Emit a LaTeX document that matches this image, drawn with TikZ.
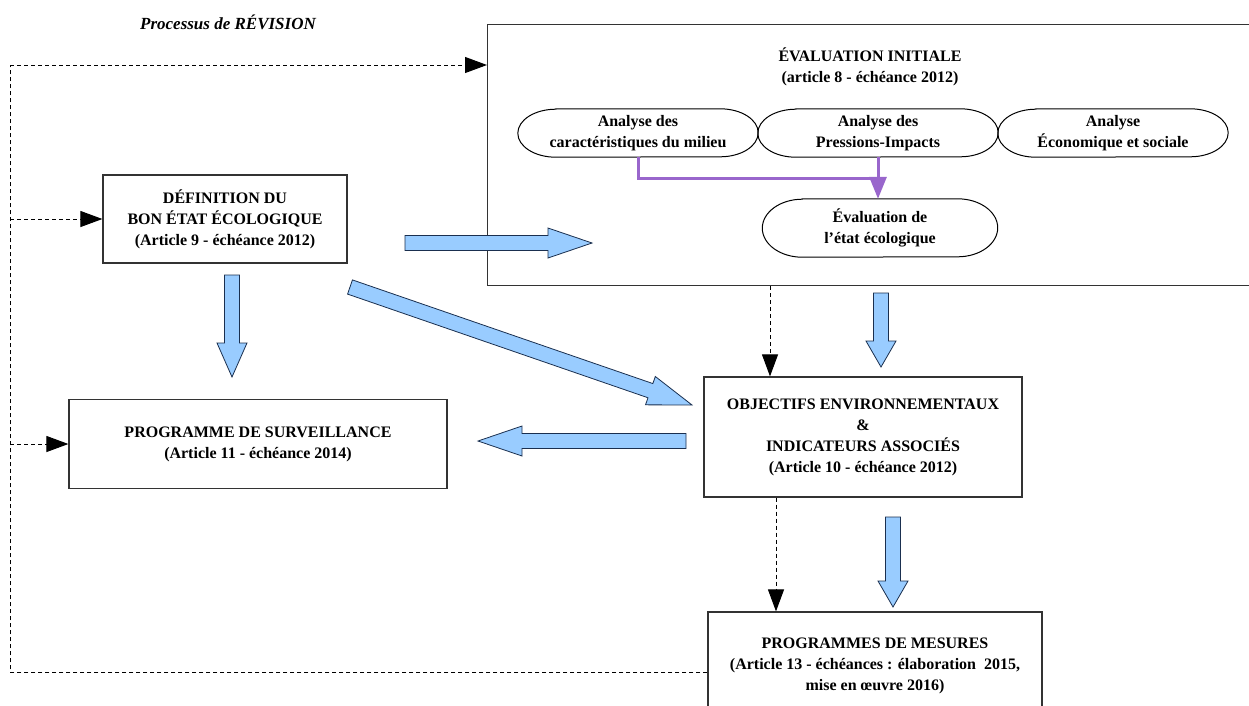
\documentclass[tikz,border=0pt]{standalone}
\usepackage{fontspec}
\setmainfont{Liberation Serif}
\usetikzlibrary{arrows.meta,calc}
\definecolor{arrowblue}{HTML}{99CCFF}
\definecolor{arrowedge}{HTML}{1A2F4F}
\definecolor{boxedge}{HTML}{333333}
\definecolor{lilas}{HTML}{9966CC}
\tikzset{
  txt/.style={align=center,inner sep=0pt,font=\bfseries\fontsize{16}{21}\selectfont},
  box/.style={txt,draw=boxedge,line width=1.2pt},
  oval/.style={txt},
  dashline/.style={line width=1pt,dash pattern=on 4pt off 3pt},
  dasharrow/.style={dashline,-{Triangle[length=22pt,width=16pt]}},
  bigarrow/.style={draw=arrowedge,fill=arrowblue,line width=0.8pt},
  lilasline/.style={draw=lilas,line width=3pt}
}
\newcommand{\blockarrow}[3]{%
  \coordinate (bah) at ($(#2)!#3!(#1)$);
  \draw[bigarrow] ($(#1)!7.5pt!90:(#2)$) -- ($(bah)!7.5pt!-90:(#1)$) -- ($(bah)!15pt!-90:(#1)$)
    -- (#2) -- ($(bah)!15pt!90:(#1)$) -- ($(bah)!7.5pt!90:(#1)$) -- ($(#1)!7.5pt!-90:(#2)$) -- cycle;}
\newcommand{\ovalframe}[3]{%
  \draw[line width=1pt] ($(#1.north west)+(#2,0)$) -- ($(#1.north east)+(-#2,0)$)
    arc[start angle=-90,end angle=90,x radius=#2,y radius=#3] -- ($(#1.south west)+(#2,0)$)
    arc[start angle=90,end angle=270,x radius=#2,y radius=#3] -- cycle;}
\begin{document}
\begin{tikzpicture}[x=1pt,y=-1pt]
  \useasboundingbox (0,0) rectangle (1249,705);
  \clip (0,0) rectangle (1249,705);
  \node[font=\bfseries\itshape\fontsize{17}{19}\selectfont] (rev) at (228,22) {Processus de RÉVISION};

  \node[box,minimum width=780pt,minimum height=261pt,anchor=north west] (eval) at (487,24) {};
  \node[txt] (evaltitle) at (870,67) {ÉVALUATION INITIALE\\(article 8 - échéance 2012)};
  \node[oval,minimum width=240pt,minimum height=48pt] (e1) at (638,133) {Analyse des\\caractéristiques du milieu};
  \node[oval,minimum width=240pt,minimum height=48pt] (e2) at (878,133) {Analyse des\\Pressions-Impacts};
  \node[oval,minimum width=230pt,minimum height=48pt] (e3) at (1113,133) {Analyse\\Économique et sociale};
  \node[oval,minimum width=235pt,minimum height=58pt] (e4) at (880,228) {Évaluation de\\l'état écologique};
  \ovalframe{e1}{38}{24}
  \ovalframe{e2}{38}{24}
  \ovalframe{e3}{38}{24}
  \ovalframe{e4}{40}{29}

  \node[box,minimum width=244pt,minimum height=88pt] (def) at (225,219) {DÉFINITION DU\\BON ÉTAT ÉCOLOGIQUE\\(Article 9 - échéance 2012)};
  \node[box,minimum width=378pt,minimum height=89pt] (surv) at (258,444) {PROGRAMME DE SURVEILLANCE\\(Article 11 - échéance 2014)};
  \node[box,minimum width=318pt,minimum height=120pt] (obj) at (863,437) {OBJECTIFS ENVIRONNEMENTAUX\\\&\\INDICATEURS ASSOCIÉS\\(Article 10 - échéance 2012)};
  \node[box,minimum width=334pt,minimum height=108pt] (mes) at (875,666) {PROGRAMMES DE MESURES\\(Article 13 - échéances : élaboration \ 2015,\\mise en œuvre 2016)};

  \coordinate (pj) at (0,178);
  \draw[lilasline] (e1.south) |- (e2.south |- pj);
  \draw[lilasline,-{Triangle[length=22pt,width=17pt]}] (e2.south) -- (e2.south |- e4.north);

  \coordinate (lt) at (10,65);
  \coordinate (lb) at (10,672);
  \draw[dashline] ($(mes.west)+(0,6)$) -- (lb) -- (lt);
  \draw[dasharrow] (lt) -- (eval.west |- lt);
  \draw[dasharrow] (lt |- def.west) -- (def.west);
  \draw[dasharrow] (lt |- surv.west) -- (surv.west);
  \coordinate (dv1) at (770,0);
  \coordinate (dv2) at (776,0);
  \draw[dasharrow] (eval.south -| dv1) -- (obj.north -| dv1);
  \draw[dasharrow] (obj.south -| dv2) -- (mes.north -| dv2);

  \coordinate (b1s) at (405,243);
  \coordinate (b1e) at (592,243);
  \coordinate (b2s) at (232,275);
  \coordinate (b2e) at (232,377);
  \coordinate (b3s) at (350,287);
  \coordinate (b3e) at (692,405);
  \coordinate (b4s) at (881,293);
  \coordinate (b4e) at (881,367);
  \coordinate (b5s) at (686,441);
  \coordinate (b5e) at (478,441);
  \coordinate (b6s) at (893,517);
  \coordinate (b6e) at (893,607);
  \blockarrow{b1s}{b1e}{44pt}
  \blockarrow{b2s}{b2e}{34pt}
  \blockarrow{b3s}{b3e}{44pt}
  \blockarrow{b4s}{b4e}{26pt}
  \blockarrow{b5s}{b5e}{44pt}
  \blockarrow{b6s}{b6e}{26pt}
\end{tikzpicture}
\end{document}
